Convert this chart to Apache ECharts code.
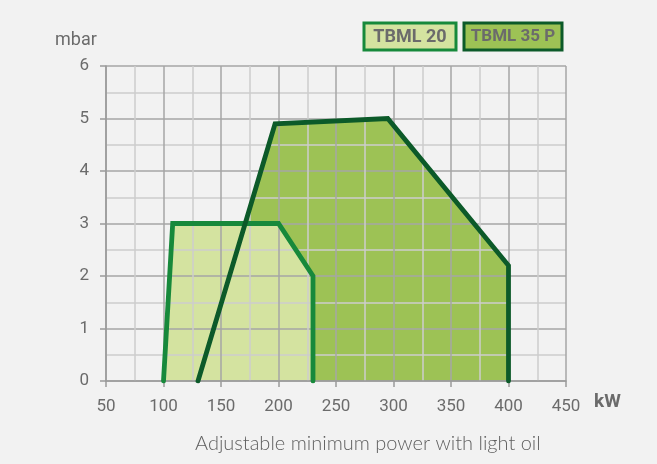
<!DOCTYPE html>
<html>
<head>
<meta charset="utf-8">
<script src="https://cdn.jsdelivr.net/npm/echarts@6/dist/echarts.min.js"></script>
<style>
html,body{margin:0;padding:0;background:#f2f2f2;}
#c{width:657px;height:464px;}
</style>
</head>
<body>
<div id="c"></div>
<script>
// Data
const seriesNames = ['TBML 20', 'TBML 35 P'];
const tbml20X = [100, 108, 200, 230, 230];
const tbml20Y = [0, 3, 3, 2, 0];
const tbml35X = [130, 197, 295, 400, 400];
const tbml35Y = [0, 4.9, 5, 2.2, 0];
const xTicks = [50, 100, 150, 200, 250, 300, 350, 400, 450];
const yTicks = [0, 1, 2, 3, 4, 5, 6];
const xUnit = 'kW';
const yUnit = 'mbar';
const caption = 'Adjustable minimum power with light oil';

const pts = (xs, ys) => xs.map((x, i) => [x, ys[i]]);
const c20 = {fill: '#d4e3a0', line: '#17893b'};
const c35 = {fill: '#9dc255', line: '#0c5a29'};
const labelColor = '#6b6b6b';
const fontFam = 'Roboto, "DejaVu Sans", sans-serif';

const chart = echarts.init(document.getElementById('c'), null, {renderer: 'canvas'});
const axisCommon = {
  type: 'value',
  z: 3,
  axisLine: {show: true, lineStyle: {color: '#9a9a9a', width: 1.5}},
  axisTick: {show: true, length: 6, lineStyle: {color: '#9a9a9a', width: 1.5}},
  splitLine: {show: true, lineStyle: {color: '#a6a6a6', width: 1.5}},
  minorTick: {show: false, splitNumber: 2},
  minorSplitLine: {show: true, lineStyle: {color: '#cdcdcd', width: 1.5}},
  axisLabel: {color: labelColor, fontSize: 17, fontFamily: fontFam}
};
chart.setOption({
  backgroundColor: '#f2f2f2',
  animation: false,
  grid: {left: 106, right: 91, top: 66, bottom: 83, containLabel: false},
  title: {
    text: caption, left: 190, top: 429,
    textStyle: {color: '#5f5f5f', fontSize: 20, fontWeight: 300, fontFamily: 'Lato, "Open Sans", sans-serif'}
  },
  xAxis: Object.assign({}, axisCommon, {
    min: xTicks[0], max: xTicks[xTicks.length - 1], interval: 50,
    axisLabel: Object.assign({}, axisCommon.axisLabel, {margin: 17})
  }),
  yAxis: Object.assign({}, axisCommon, {
    min: yTicks[0], max: yTicks[yTicks.length - 1], interval: 1,
    axisLabel: Object.assign({}, axisCommon.axisLabel, {margin: 17})
  }),
  series: [
    {type: 'line', name: seriesNames[1] + ' fill', data: pts(tbml35X, tbml35Y), z: 1, symbol: 'none',
     lineStyle: {width: 0, opacity: 0}, areaStyle: {color: c35.fill, opacity: 1}, silent: true},
    {type: 'line', name: seriesNames[0] + ' fill', data: pts(tbml20X, tbml20Y), z: 2, symbol: 'none',
     lineStyle: {width: 0, opacity: 0}, areaStyle: {color: c20.fill, opacity: 1}, silent: true},
    {type: 'line', name: seriesNames[0], data: pts(tbml20X, tbml20Y), z: 4, symbol: 'none',
     lineStyle: {width: 4.8, color: c20.line, join: 'miter', cap: 'round'}},
    {type: 'line', name: seriesNames[1], data: pts(tbml35X, tbml35Y), z: 5, symbol: 'none',
     lineStyle: {width: 4.8, color: c35.line, join: 'miter', cap: 'round'}}
  ],
  graphic: [
    {type: 'text', left: 55, top: 31, style: {text: yUnit, fill: labelColor, font: '18px ' + fontFam}},
    {type: 'text', left: 594, top: 393, style: {text: xUnit, fill: labelColor, font: 'bold 19px ' + fontFam}},
    {type: 'rect', shape: {x: 364, y: 23, width: 92, height: 27},
     style: {fill: c20.fill, stroke: c20.line, lineWidth: 3}},
    {type: 'text', x: 410, y: 37, style: {text: seriesNames[0], fill: labelColor, font: 'bold 18px ' + fontFam, align: 'center', verticalAlign: 'middle'}},
    {type: 'rect', shape: {x: 464, y: 23, width: 98, height: 27},
     style: {fill: c35.fill, stroke: c35.line, lineWidth: 3}},
    {type: 'text', x: 513, y: 37, style: {text: seriesNames[1], fill: labelColor, font: 'bold 17px ' + fontFam, align: 'center', verticalAlign: 'middle'}}
  ]
});
</script>
</body>
</html>
